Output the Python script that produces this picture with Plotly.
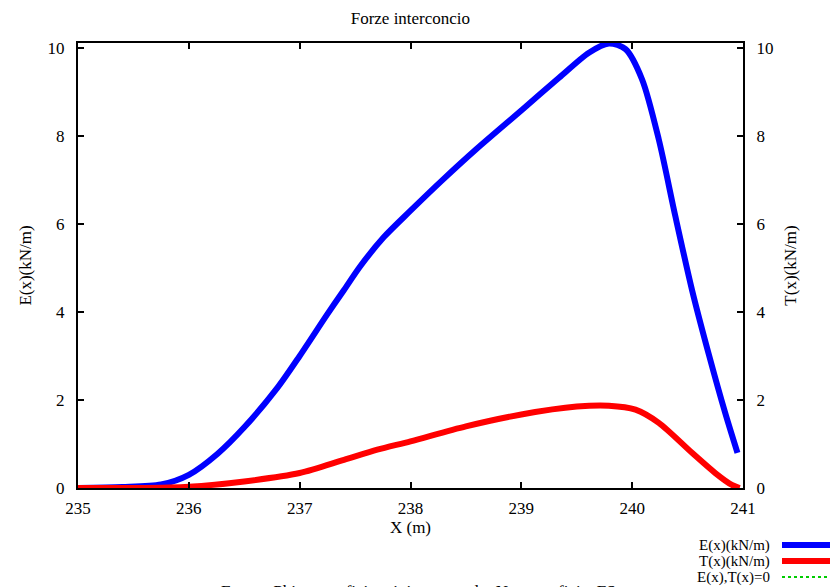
import plotly.graph_objects as go

# Data
x_E = [235.0, 235.4, 235.75, 236.0, 236.26, 236.5, 236.8, 237.0, 237.25, 237.4, 237.55, 237.76, 238.0,
       238.29, 238.59, 239.01, 239.34, 239.61, 239.79, 239.94, 240.09, 240.24, 240.39, 240.54, 240.69, 240.84, 240.95]
E_vals = [0.0, 0.02, 0.08, 0.3, 0.78, 1.38, 2.28, 3.0, 3.95, 4.5, 5.05, 5.7, 6.3,
          7.0, 7.69, 8.6, 9.32, 9.89, 10.1, 9.97, 9.28, 7.92, 6.17, 4.5, 3.05, 1.7, 0.8]

x_T = [235.0, 235.5, 236.0, 236.5, 237.0, 237.4, 237.7, 238.0, 238.5, 239.0, 239.5, 239.79, 240.03,
       240.24, 240.54, 240.75, 240.9, 240.97]
T_vals = [0.0, 0.0, 0.03, 0.15, 0.34, 0.64, 0.87, 1.06, 1.4, 1.67, 1.85, 1.87, 1.78,
          1.48, 0.8, 0.34, 0.07, 0.0]

x_ticks = [235, 236, 237, 238, 239, 240, 241]
y_ticks = [0, 2, 4, 6, 8, 10]

legend_labels = ["E(x)(kN/m)", "T(x)(kN/m)", "E(x),T(x)=0"]
legend_colors = ["#0000ff", "#ff0000", "#00cc00"]

title = "Forze interconcio"
x_title = "X (m)"
y1_title = "E(x)(kN/m)"
y2_title = "T(x)(kN/m)"
footer = "Fattore Phi   superficie minima metodo  Nt  superficie  FS"

FONT = "Liberation Serif"
FS = 17

fig = go.Figure()
fig.add_trace(go.Scatter(x=x_E, y=E_vals, mode="lines", line=dict(color=legend_colors[0], width=6, shape="spline", smoothing=0.8),
                         name=legend_labels[0], showlegend=False))
fig.add_trace(go.Scatter(x=x_T, y=T_vals, mode="lines", line=dict(color=legend_colors[1], width=6, shape="spline", smoothing=0.8),
                         name=legend_labels[1], showlegend=False, yaxis="y2"))

axis_common = dict(showline=True, linecolor="black", linewidth=2, ticks="inside", ticklen=6,
                   tickcolor="black", tickwidth=1.5, showgrid=False, zeroline=False,
                   tickfont=dict(family=FONT, size=FS, color="black"))

fig.update_layout(
    width=835, height=587,
    margin=dict(l=78, r=92, t=43, b=99),
    paper_bgcolor="white", plot_bgcolor="white",
    font=dict(family=FONT, size=FS, color="black"),
    title=dict(text=title, x=0.4915, xanchor="center", y=0.97, yanchor="middle",
               font=dict(family=FONT, size=FS, color="black")),
    xaxis=dict(range=[235, 241], tickvals=x_ticks, mirror="ticks",
               title=dict(text=x_title, standoff=0, font=dict(family=FONT, size=FS)),
               ticklabelstandoff=4, **axis_common),
    yaxis=dict(range=[0, 10.11], tickvals=y_ticks, mirror=True,
               title=dict(text=y1_title, standoff=12, font=dict(family=FONT, size=FS)),
               ticklabelstandoff=8, **axis_common),
    yaxis2=dict(range=[0, 10.11], tickvals=y_ticks, overlaying="y", side="right",
                title=dict(text=y2_title, standoff=12, font=dict(family=FONT, size=FS)),
                ticklabelstandoff=8, **axis_common),
    showlegend=False,
)

# Manual legend (text right-aligned, sample to the right)
legend_y = [545, 561, 577]
for lab, col, yy in zip(legend_labels, legend_colors, legend_y):
    y_line = (587 - 99 - yy) / (587 - 43 - 99)
    fig.add_annotation(text=lab, xref="paper", yref="paper",
                       x=(771 - 78) / 665, y=y_line,
                       xanchor="right", yanchor="middle", showarrow=False, borderpad=0,
                       font=dict(family=FONT, size=15, color="black"))
    if lab == legend_labels[2]:
        fig.add_shape(type="line", xref="paper", yref="paper",
                      x0=(782 - 78) / 665, x1=(830 - 78) / 665, y0=y_line, y1=y_line,
                      line=dict(color=col, width=2, dash="dot"))
    else:
        fig.add_shape(type="line", xref="paper", yref="paper",
                      x0=(782 - 78) / 665, x1=(830 - 78) / 665, y0=y_line, y1=y_line,
                      line=dict(color=col, width=6))

fig.add_annotation(text=footer, xref="paper", yref="paper",
                   x=(418 - 78) / 665, y=(587 - 99 - 591) / 445, xanchor="center", yanchor="middle",
                   showarrow=False, font=dict(family=FONT, size=FS, color="black"))

fig.write_html("out.html")
